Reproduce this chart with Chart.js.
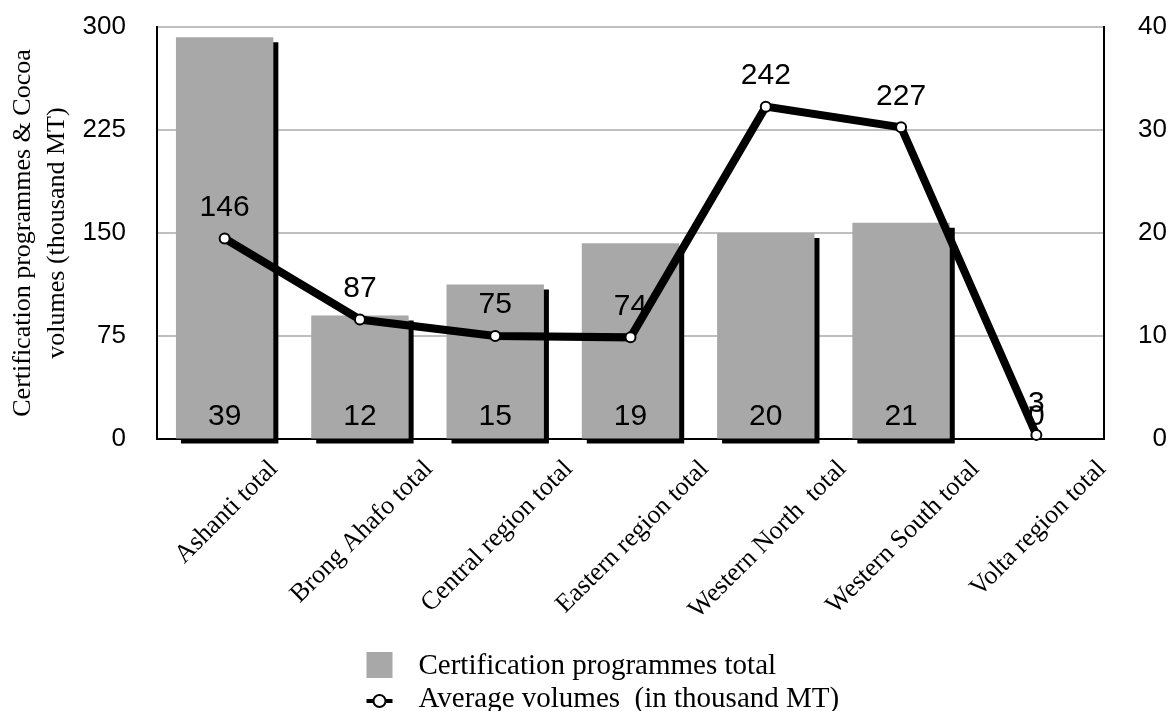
<!DOCTYPE html>
<html>
<head>
<meta charset="utf-8">
<script src="https://cdn.jsdelivr.net/npm/chart.js@4.4.1/dist/chart.umd.min.js"></script>
<style>
  html, body { margin: 0; padding: 0; background: #fff; }
</style>
</head>
<body>
<canvas id="myChart" width="1167" height="711"></canvas>
<script>
const regions = ['Ashanti total', 'Brong Ahafo total', 'Central region total', 'Eastern region total',
                 'Western North  total', 'Western South total', 'Volta region total'];
const programmes = [39, 12, 15, 19, 20, 21, 0];
const volumes = [146, 87, 75, 74, 242, 227, 3];
const leftTicks = [0, 75, 150, 225, 300];
const rightTicks = [0, 10, 20, 30, 40];
const seriesNames = ['Certification programmes total', 'Average volumes  (in thousand MT)'];
const axisTitle = ['Certification programmes & Cocoa', 'volumes (thousand MT)'];

const barGray = '#a8a8a8';
const serif = '"Liberation Serif", "Times New Roman", serif';
const sans = '"Liberation Sans", Arial, sans-serif';

Chart.defaults.font.family = sans;
Chart.defaults.color = '#000';

// labels + bar shadow
const extras = {
  id: 'extras',
  beforeDatasetDraw(chart, args) {
    if (args.index !== 0) return;
    const ctx = chart.ctx;
    ctx.save();
    ctx.shadowColor = '#000';
    ctx.shadowBlur = 0;
    ctx.shadowOffsetX = 5;
    ctx.shadowOffsetY = 5;
  },
  afterDatasetDraw(chart, args) {
    if (args.index !== 0) return;
    const ctx = chart.ctx;
    ctx.restore();
    ctx.save();
    ctx.font = '30px ' + sans;
    ctx.fillStyle = '#000';
    ctx.textAlign = 'center';
    ctx.textBaseline = 'middle';
    chart.getDatasetMeta(0).data.forEach((el, i) => {
      ctx.fillText(programmes[i], el.x, el.base - 22);
    });
    chart.getDatasetMeta(1).data.forEach((el, i) => {
      ctx.fillText(volumes[i], el.x, el.y - 31);
    });
    ctx.restore();
  },
  afterDraw(chart) {
    const ctx = chart.ctx;
    const xs = chart.scales.x;
    ctx.save();
    ctx.fillStyle = '#000';
    // rotated category labels, centred on the tick
    ctx.font = '26px ' + serif;
    ctx.textAlign = 'right';
    ctx.textBaseline = 'middle';
    regions.forEach((r, i) => {
      const x = xs.getPixelForValue(i);
      const half = ctx.measureText(r).width / 2 * Math.SQRT1_2;
      ctx.save();
      ctx.translate(x + half + 2, xs.top + 26);
      ctx.rotate(-Math.PI / 4);
      ctx.fillText(r, 0, 0);
      ctx.restore();
    });
    // legend
    ctx.font = '29px ' + serif;
    ctx.textAlign = 'left';
    ctx.textBaseline = 'alphabetic';
    const gx = chart.width / 2 - 217;
    ctx.fillStyle = barGray;
    ctx.fillRect(gx, 652, 26, 26);
    ctx.strokeStyle = '#000';
    ctx.lineWidth = 4;
    ctx.beginPath();
    ctx.moveTo(gx, 701);
    ctx.lineTo(gx + 26, 701);
    ctx.stroke();
    ctx.beginPath();
    ctx.arc(gx + 13, 701, 6, 0, Math.PI * 2);
    ctx.fillStyle = '#fff';
    ctx.fill();
    ctx.lineWidth = 2;
    ctx.stroke();
    ctx.fillStyle = '#000';
    ctx.fillText(seriesNames[0], gx + 52, 674);
    ctx.fillText(seriesNames[1], gx + 52, 707);
    ctx.restore();
  }
};

const ctx = document.getElementById('myChart');

new Chart(ctx, {
  type: 'bar',
  data: {
    labels: regions,
    datasets: [{
      type: 'bar',
      label: seriesNames[0],
      data: programmes,
      yAxisID: 'y1',
      backgroundColor: barGray,
      borderWidth: 0,
      barPercentage: 0.72,
      categoryPercentage: 1,
      order: 1,
      clip: false
    }, {
      type: 'line',
      label: seriesNames[1],
      data: volumes,
      yAxisID: 'y',
      borderColor: '#000',
      borderWidth: 8,
      tension: 0,
      pointRadius: 5,
      pointBackgroundColor: '#fff',
      pointBorderColor: '#000',
      pointBorderWidth: 2,
      order: 0,
      clip: false
    }]
  },
  options: {
    responsive: false,
    animation: false,
    layout: { padding: { top: 27, left: 0, right: 0, bottom: 0 } },
    plugins: {
      legend: { display: false },
      tooltip: { enabled: false }
    },
    scales: {
      x: {
        grid: { display: false, drawTicks: false },
        border: { color: '#000', width: 2 },
        ticks: { display: false },
        afterFit: s => { s.height = 272; }
      },
      y: {
        position: 'left',
        min: 0,
        max: 300,
        afterBuildTicks: s => { s.ticks = leftTicks.map(v => ({ value: v })); },
        grid: { color: '#bfbfbf', lineWidth: 2, drawTicks: false },
        border: { color: '#000', width: 2 },
        ticks: { padding: 31, color: '#000', font: { size: 26 } },
        title: {
          display: true,
          text: axisTitle,
          color: '#000',
          font: { family: serif, size: 26, lineHeight: 1.3 },
          padding: { top: 6, bottom: 0 }
        },
        afterFit: s => { s.width = 157; s.paddingTop = 0; s.paddingBottom = 0; }
      },
      y1: {
        position: 'right',
        min: 0,
        max: 40,
        afterBuildTicks: s => { s.ticks = rightTicks.map(v => ({ value: v })); },
        grid: { drawOnChartArea: false, drawTicks: false },
        border: { color: '#000', width: 2 },
        ticks: { padding: 31, crossAlign: 'far', color: '#000', font: { size: 26 } },
        afterFit: s => { s.width = 63; s.paddingTop = 0; s.paddingBottom = 0; }
      }
    }
  },
  plugins: [extras]
});
</script>
</body>
</html>
